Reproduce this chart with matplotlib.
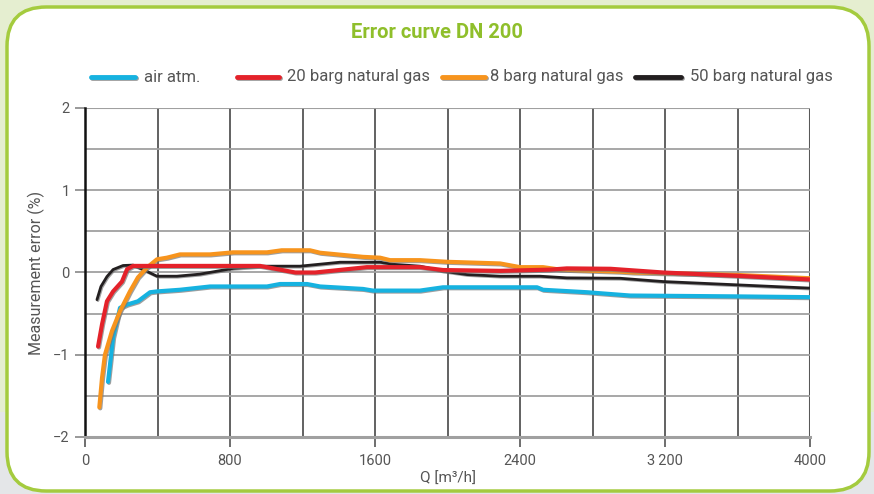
import matplotlib.pyplot as plt
import matplotlib.patheffects as pe
from matplotlib.patches import FancyBboxPatch, Rectangle
from matplotlib.lines import Line2D

plt.rcParams['font.family'] = ['Roboto', 'DejaVu Sans']

# data
air_q = [127, 155, 193, 232, 292, 359, 397, 524, 690, 1004, 1076, 1225, 1297,
         1534, 1589, 1848, 1975, 2494, 2527, 2770, 3007, 3575, 4000]
air_e = [-1.33, -0.79, -0.43, -0.39, -0.35, -0.24, -0.23, -0.21, -0.17, -0.17,
         -0.14, -0.14, -0.17, -0.20, -0.22, -0.22, -0.18, -0.18, -0.21, -0.24,
         -0.28, -0.29, -0.30]

red_q = [72, 94, 121, 155, 204, 232, 265, 966, 1160, 1270, 1555, 1848, 1975,
         2290, 2566, 2658, 2900, 3190, 3597, 4000]
red_e = [-0.90, -0.63, -0.35, -0.23, -0.11, 0.04, 0.08, 0.08, 0.0, 0.0, 0.065,
         0.065, 0.03, 0.02, 0.035, 0.05, 0.045, 0.0, -0.04, -0.085]

orange_q = [79, 94, 110, 149, 193, 248, 292, 342, 397, 452, 524, 690, 817,
            1004, 1085, 1241, 1297, 1534, 1628, 1683, 1848, 1997, 2290, 2400,
            2527, 2621, 2952, 3025, 3600, 4000]
orange_e = [-1.64, -1.28, -1.0, -0.71, -0.47, -0.23, -0.06, 0.06, 0.16, 0.18,
            0.22, 0.22, 0.245, 0.245, 0.27, 0.27, 0.24, 0.19, 0.18, 0.15, 0.15,
            0.13, 0.11, 0.065, 0.065, 0.035, 0.01, 0.0, -0.03, -0.07]

black_q = [66, 88, 121, 155, 210, 265, 320, 397, 507, 634, 817, 983, 1186,
           1407, 1628, 1700, 1848, 1975, 2107, 2290, 2510, 2658, 2952, 3190,
           3597, 4000]
black_e = [-0.33, -0.17, -0.05, 0.036, 0.085, 0.09, 0.036, -0.045, -0.045,
           -0.02, 0.05, 0.077, 0.077, 0.125, 0.125, 0.10, 0.077, 0.016, -0.025,
           -0.045, -0.045, -0.065, -0.07, -0.11, -0.15, -0.19]

x_ticks = [0, 800, 1600, 2400, 3200, 4000]
x_labels = ['0', '800', '1600', '2400', '3\u2009200', '4000']
y_ticks = [-2, -1, 0, 1, 2]

legend_labels = ['air atm.', '20 barg natural gas', '8 barg natural gas',
                 '50 barg natural gas']

c_air = '#16b2e0'
c_red = '#e4222a'
c_orange = '#f7941d'
c_black = '#231f20'
c_green = '#8fbf2b'
c_text = '#555555'

W, H = 874, 494
fig = plt.figure(figsize=(W / 100, H / 100), dpi=100)
fig.patch.set_facecolor('#e5eed0')
fig.patches.append(Rectangle((0, 0), 1, 82 / H, transform=fig.transFigure,
                             facecolor='#e4e6e8', edgecolor='none', zorder=0))
box = FancyBboxPatch((7 / W, 3 / H), 862 / W, 484 / H,
                     boxstyle='round,pad=0,rounding_size=0.045',
                     transform=fig.transFigure, facecolor='white',
                     edgecolor='#a4cb3e', linewidth=2.5, zorder=1,
                     mutation_aspect=W / H)
fig.patches.append(box)

ax = fig.add_axes([85 / W, 1 - 437 / H, 725 / W, 329 / H])
ax.set_facecolor('white')
ax.set_zorder(2)

shadow = [pe.SimpleLineShadow(offset=(0.7, -0.7), shadow_color='#777777', alpha=0.7),
          pe.Normal()]

ax.plot(black_q, black_e, color=c_black, lw=2.0, solid_capstyle='round',
        path_effects=shadow, zorder=3)
ax.plot(air_q, air_e, color=c_air, lw=3.0, solid_capstyle='round',
        path_effects=shadow, zorder=4)
ax.plot(orange_q, orange_e, color=c_orange, lw=3.0, solid_capstyle='round',
        path_effects=shadow, zorder=5)
ax.plot(red_q, red_e, color=c_red, lw=3.0, solid_capstyle='round',
        path_effects=shadow, zorder=6)

ax.set_xlim(0, 4000)
ax.set_ylim(-2, 2)
ax.set_xticks(x_ticks)
ax.set_xticklabels(x_labels)
ax.set_xticks(range(400, 4000, 800), minor=True)
ax.set_yticks(y_ticks)
ax.set_yticks([-1.5, -0.5, 0.5, 1.5], minor=True)

ax.grid(axis='x', which='both', color='#555555', lw=1.3, zorder=1)
ax.grid(axis='y', which='both', color='#a0a0a0', lw=1.3, zorder=1)

for s in ['top', 'right']:
    ax.spines[s].set_visible(False)
ax.spines['left'].set_color('#111111')
ax.spines['left'].set_linewidth(1.8)
ax.spines['bottom'].set_color('#a0a0a0')
ax.spines['bottom'].set_linewidth(2.2)
ax.axhline(2, color='#a0a0a0', lw=1.5, zorder=1)
ax.axvline(4000, color='#777777', lw=1.5, zorder=1)

ax.tick_params(axis='x', which='major', length=7, width=1.2, color='#555555',
               labelcolor=c_text, labelsize=10.5, pad=5)
ax.tick_params(axis='y', which='major', length=7, width=1.2, color='#888888',
               labelcolor=c_text, labelsize=10.5, pad=4)
ax.tick_params(which='minor', length=0)

ax.set_xlabel('Q [m\u00b3/h]', color=c_text, fontsize=11, labelpad=3)
ax.set_ylabel('Measurement error (%)', color=c_text, fontsize=11.5, labelpad=6)

fig.text(0.5, 1 - 33 / H, 'Error curve DN 200', color=c_green,
         fontsize=14.5, fontweight='bold', ha='center', va='center', zorder=3)

# legend drawn by hand to match the uneven spacing of the original
leg_y = 1 - 77 / H
leg_handle_x = [(91, 135), (237, 279), (442, 485), (635, 681)]
leg_text_x = [144, 287, 490, 690]
for (x0, x1), tx, c, lab in zip(leg_handle_x, leg_text_x,
                                [c_air, c_red, c_orange, c_black], legend_labels):
    fig.add_artist(Line2D([x0 / W, x1 / W], [leg_y, leg_y], color=c, lw=3.5,
                          solid_capstyle='round', transform=fig.transFigure,
                          path_effects=shadow, zorder=3))
    fig.text(tx / W, leg_y, lab, color=c_text, fontsize=12, ha='left',
             va='center', zorder=3)

fig.savefig('out.png', dpi=100, facecolor=fig.get_facecolor())
